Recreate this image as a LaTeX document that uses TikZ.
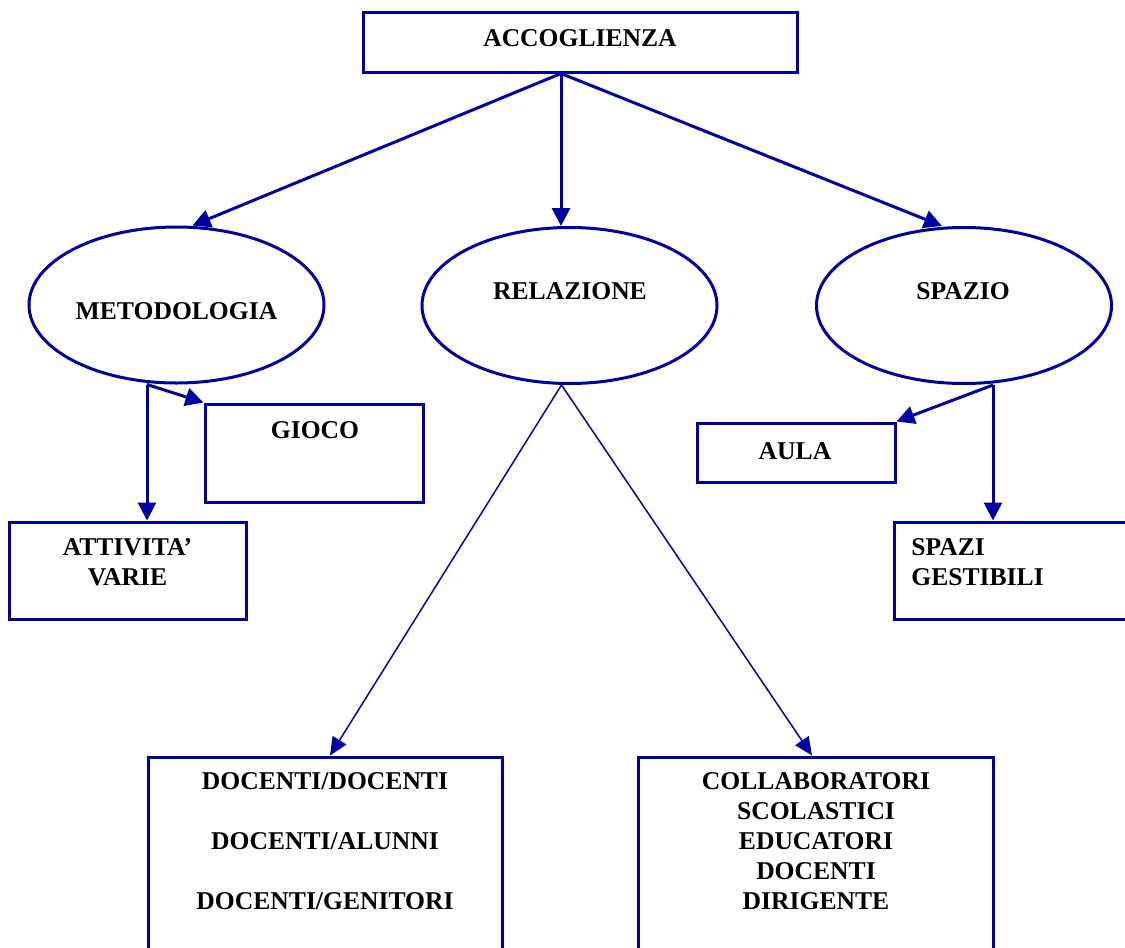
\documentclass[tikz,border=0pt]{standalone}
\usepackage{fontspec}
\setmainfont{Liberation Serif}
\usetikzlibrary{arrows.meta,shapes.geometric,calc,positioning}
\definecolor{schemablu}{RGB}{0,0,160}

\tikzset{
  box/.style={draw=schemablu,line width=1.5pt,rectangle,inner sep=0pt},
  oval/.style={draw=schemablu,line width=1.5pt,ellipse,inner sep=0pt,
    minimum width=147.5pt,minimum height=78pt},
  txt/.style={font=\fontsize{12.8}{15}\selectfont\bfseries,align=center,inner sep=0pt},
  freccia/.style={schemablu,line width=1.5pt,-{Triangle[length=9pt,width=9pt]}},
  filo/.style={schemablu,line width=0.75pt,-{Triangle[length=9pt,width=8pt]}},
}

\begin{document}
\begin{tikzpicture}[x=0.5pt,y=-0.5pt]

	\clip (0,0) rectangle (1125,948);

	% riquadri e ovali
	\node[box,minimum width=217pt,minimum height=30pt] (acc) at (580,42) {};
	\node[oval] (met) at (176.5,305) {};
	\node[oval] (rel) at (569.5,305.5) {};
	\node[oval] (spa) at (964,305.5) {};
	\node[box,minimum width=109pt,minimum height=49pt] (gio) at (314,453) {};
	\node[box,minimum width=118.5pt,minimum height=48.5pt] (att) at (127.5,570.5) {};
	\node[box,minimum width=99pt,minimum height=29.5pt] (aul) at (796,452.5) {};
	\node[box,minimum width=123pt,minimum height=48.5pt] (spz) at (1017,570.5) {};
	\node[box,minimum width=177pt,minimum height=106.5pt] (doc) at (325,863.5) {};
	\node[box,minimum width=177.5pt,minimum height=106.5pt] (col) at (815.5,863.5) {};

	% testi
	\node[txt] (tacc) at (580,38) {ACCOGLIENZA};
	\node[txt] (tmet) at (176.5,311) {METODOLOGIA};
	\node[txt] (trel) at (570,291) {RELAZIONE};
	\node[txt] (tspa) at (963,291) {SPAZIO};
	\node[txt] (tgio) at (315,430) {GIOCO};
	\node[txt] (tatt) at (127.5,562) {ATTIVITA’\\VARIE};
	\node[txt] (taul) at (795,451) {AULA};
	\node[txt,align=left,anchor=west] (tspz) at (911,562.5) {SPAZI\\GESTIBILI};
	\node[txt] (tdoc) at (325,841.5) {DOCENTI/DOCENTI\\[15pt]DOCENTI/ALUNNI\\[15pt]DOCENTI/GENITORI};
	\node[txt] (tcol) at (816,841) {COLLABORATORI\\SCOLASTICI\\EDUCATORI\\DOCENTI\\DIRIGENTE};

	% punti di partenza
	\coordinate (radice) at ($(acc.south)+(-19,0)$);
	\coordinate (metbase) at ($(met.south)+(-29.5,0)$);
	\coordinate (spabase) at ($(spa.south)+(29,0)$);
	\coordinate (relbase) at ($(rel.south)+(-8,0)$);

	% frecce
	\draw[freccia] (radice) -- ($(met.north)+(16,0)$);
	\draw[freccia] (radice) -- (radice |- rel.north);
	\draw[freccia] (radice) -- ($(spa.north)+(-22,0)$);
	\draw[freccia] (metbase) -- (metbase |- att.north);
	\draw[freccia] (metbase) -- (gio.north west);
	\draw[freccia] (spabase) -- (aul.north east);
	\draw[freccia] (spabase) -- (spabase |- spz.north);
	\draw[filo] (relbase) -- ($(doc.north)+(5,0)$);
	\draw[filo] (relbase) -- ($(col.north)+(-3.5,0)$);

\end{tikzpicture}
\end{document}
